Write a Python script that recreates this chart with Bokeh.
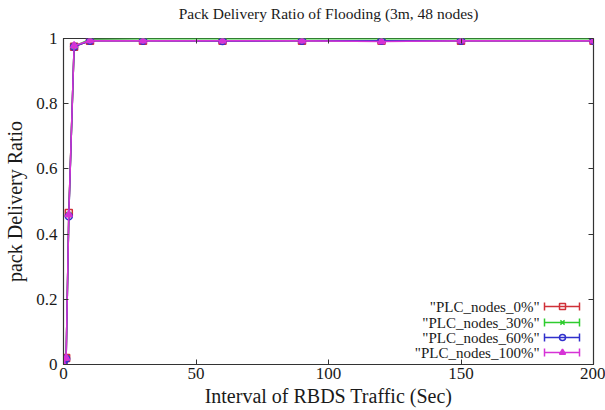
from bokeh.plotting import figure
from bokeh.models import LinearAxis, FixedTicker, Range1d
from bokeh.core.properties import value
from bokeh.embed import file_html
from bokeh.resources import INLINE

# ---- data ----
x_vals = [0, 1, 2, 4, 10, 30, 60, 90, 120, 150, 200]
plc_0 = [0.0, 0.02, 0.465, 0.975, 0.993, 0.993, 0.993, 0.993, 0.993, 0.993, 0.993]
plc_30 = [0.0, 0.02, 0.46, 0.976, 0.998, 0.999, 0.999, 0.999, 0.999, 0.999, 0.999]
plc_60 = [0.0, 0.018, 0.455, 0.975, 0.993, 0.993, 0.992, 0.993, 0.993, 0.993, 0.993]
plc_100 = [0.0, 0.02, 0.46, 0.978, 0.994, 0.993, 0.993, 0.993, 0.991, 0.993, 0.993]
series_names = ['"PLC_nodes_0%"', '"PLC_nodes_30%"', '"PLC_nodes_60%"', '"PLC_nodes_100%"']
x_ticks = [0, 50, 100, 150, 200]
y_ticks = [0, 0.2, 0.4, 0.6, 0.8, 1.0]
y_tick_labels = {0: "0", 0.2: "0.2", 0.4: "0.4", 0.6: "0.6", 0.8: "0.8", 1.0: "1"}
title_text = "Pack Delivery Ratio of Flooding (3m, 48 nodes)"
x_label_text = "Interval of RBDS Traffic (Sec)"
y_label_text = "pack Delivery Ratio"

colors = ["#d03038", "#2ecc2e", "#3030cc", "#d633d6"]
markers = ["square", "x", "circle", "triangle"]
fills = [None, None, None, "#d633d6"]
SERIF = "Liberation Serif"
TXT = "#1a1a1a"

W, H = 605, 410
L, R, T, B = 63, 12, 38, 46
FW, FH = W - L - R, H - T - B

p = figure(width=W, height=H, output_backend="svg", toolbar_location=None,
           x_range=Range1d(0, 200), y_range=Range1d(0, 1),
           min_border_left=L, min_border_right=R, min_border_top=T, min_border_bottom=B)
p.xgrid.visible = False
p.ygrid.visible = False
p.outline_line_color = "#333333"
p.outline_line_width = 1.2
p.background_fill_color = "white"
p.border_fill_color = "white"

for ax in (p.xaxis[0], p.yaxis[0]):
    ax.major_tick_in = 5
    ax.major_tick_out = 0
    ax.minor_tick_line_color = None
    ax.axis_line_color = "#333333"
    ax.major_tick_line_color = "#333333"
    ax.major_label_text_font = SERIF
    ax.major_label_text_font_size = "17px"
    ax.major_label_text_color = TXT
    ax.axis_label_text_font = SERIF
    ax.axis_label_text_font_size = "20px"
    ax.axis_label_text_font_style = "normal"
    ax.axis_label_text_color = TXT

p.xaxis[0].major_label_standoff = 3
p.yaxis[0].major_label_standoff = 6
p.xaxis[0].axis_label_standoff = 3
p.yaxis[0].axis_label_standoff = 7
p.xaxis[0].ticker = FixedTicker(ticks=x_ticks)
p.yaxis[0].ticker = FixedTicker(ticks=y_ticks)
p.yaxis[0].major_label_overrides = y_tick_labels
p.xaxis[0].axis_label = x_label_text
p.yaxis[0].axis_label = y_label_text

# mirrored ticks (the top one also carries the chart title)
mirror = {}
for loc, ticks in (("right", y_ticks), ("above", x_ticks)):
    ax = LinearAxis(ticker=FixedTicker(ticks=ticks))
    ax.major_tick_in = 5
    ax.major_tick_out = 0
    ax.minor_tick_line_color = None
    ax.axis_line_color = None
    ax.major_tick_line_color = "#333333"
    ax.major_label_text_font_size = "0px"
    ax.major_label_standoff = 0
    p.add_layout(ax, loc)
    mirror[loc] = ax

top = mirror["above"]
top.axis_label = title_text
top.axis_label_text_font = SERIF
top.axis_label_text_font_size = "15.5px"
top.axis_label_text_font_style = "normal"
top.axis_label_text_color = TXT
top.axis_label_standoff = 17

all_series = [plc_0, plc_30, plc_60, plc_100]
for ys, c, m, f in zip(all_series, colors, markers, fills):
    p.line(x_vals, ys, line_color=c, line_width=1.5)
    p.scatter(x_vals, ys, marker=m, size=7, line_color=c, line_width=1.5,
              fill_color=f if f else None)

# pixel -> data helpers for the key layout
def px(x):
    return (x - L) / FW * 200.0

def py(y):
    return (H - B - y) / FH * 1.0

# gnuplot-style key at the lower right
rows_y = [306, 322, 337, 352]
text_right = 539
seg_l, seg_r, mark_x = 544, 579, 562
for name, c, m, f, ry in zip(series_names, colors, markers, fills, rows_y):
    p.text(x=[px(text_right)], y=[py(ry)], text=[name], text_align="right",
           text_baseline="middle", text_font=value(SERIF), text_font_size="15px",
           text_color=TXT)
    p.segment(x0=[px(seg_l)], y0=[py(ry)], x1=[px(seg_r)], y1=[py(ry)],
              line_color=c, line_width=1.5)
    for sx in (seg_l, seg_r):
        p.segment(x0=[px(sx)], y0=[py(ry - 4)], x1=[px(sx)], y1=[py(ry + 4)],
                  line_color=c, line_width=1.5)
    p.scatter(x=[px(mark_x)], y=[py(ry)], marker=m, size=6, line_color=c,
              line_width=1.5, fill_color=f if f else None)

open("out.html", "w").write(file_html(p, INLINE))
